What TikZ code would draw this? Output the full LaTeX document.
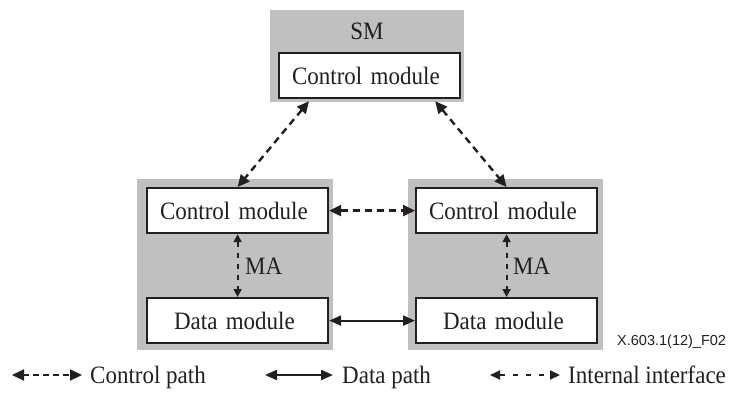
\documentclass[tikz,border=0pt]{standalone}
\usepackage{fontspec}
\setmainfont{Liberation Serif}[FakeStretch=0.92]
\newfontfamily\figsans{Liberation Sans}
\usetikzlibrary{arrows.meta,calc}
\definecolor{ink}{RGB}{35,31,32}
\definecolor{panel}{RGB}{193,192,192}
\tikzset{
  panelbox/.style={fill=panel, draw=none, anchor=north west, inner sep=0pt},
  modbox/.style={draw=ink, line width=2.2pt, fill=white, anchor=north west,
     minimum height=45pt, text=ink, align=left, font=\fontsize{25}{28}\selectfont},
  ctlbox/.style={modbox, inner xsep=13pt, text width=155pt},
  databox/.style={modbox, inner xsep=27pt, text width=127pt},
  lbl/.style={text=ink, inner sep=0pt, font=\fontsize{25}{28}\selectfont},
  ctlpath/.style={draw=ink, line width=2.4pt, dash pattern=on 7pt off 5pt,
     {Triangle[length=12pt,width=11pt]}-{Triangle[length=12pt,width=11pt]}},
  datapath/.style={draw=ink, line width=2.2pt,
     {Triangle[length=12pt,width=10pt]}-{Triangle[length=12pt,width=10pt]}},
  intf/.style={draw=ink, line width=1.8pt, dash pattern=on 5pt off 6pt,
     {Triangle[length=8pt,width=8pt]}-{Triangle[length=8pt,width=8pt]}}
}
\begin{document}
\begin{tikzpicture}[x=1pt,y=-1pt]
\useasboundingbox (0,0) rectangle (731,392);
% panels
\node[panelbox, minimum width=194pt, minimum height=92pt] (smp) at (270,10) {};
\node[panelbox, minimum width=196pt, minimum height=171pt] (lp) at (137,179) {};
\node[panelbox, minimum width=195pt, minimum height=171pt] (rp) at (408,179) {};
\node[lbl] (sm) at (367,31) {SM};
% modules
\node[ctlbox] (topctl) at (278,52) {Control module};
\node[ctlbox] (lctl) at (146,187) {Control module};
\node[ctlbox] (rctl) at (415,187) {Control module};
\node[databox] (ldat) at (146,297) {Data module};
\node[databox] (rdat) at (415,297) {Data module};
% connectors
\draw[ctlpath] ($(topctl.south west)+(31,2)$) -- (lctl.north);
\draw[ctlpath] ($(topctl.south east)+(-26,2)$) -- (rctl.north);
\draw[ctlpath] (lctl.east) -- (rctl.west);
\draw[datapath] (ldat.east) -- (rdat.west);
\draw[intf] (lctl.south) -- (ldat.north);
\draw[intf] (rctl.south) -- (rdat.north);
\node[lbl, anchor=west] (ma1) at (245,266) {MA};
\node[lbl, anchor=west] (ma2) at (513,266) {MA};
% figure id
\node[text=ink, inner sep=0pt, anchor=west, font=\figsans\fontsize{14.5}{16}\selectfont] (fid) at (617,342) {X.603.1(12)\_F02};
% legend
\coordinate (c1) at (12,375); \coordinate (c2) at (82,375);
\coordinate (d1) at (265,375); \coordinate (d2) at (333,375);
\coordinate (i1) at (490,375); \coordinate (i2) at (560,375);
\draw[ctlpath, line width=2.2pt, dash pattern=on 6pt off 4pt,
  {Triangle[length=12pt,width=11pt]}-{Triangle[length=12pt,width=11pt]}] (c1) -- (c2);
\draw[datapath] (d1) -- (d2);
\draw[intf, dash pattern=on 5pt off 8pt,
  {Triangle[length=10pt,width=9pt]}-{Triangle[length=10pt,width=9pt]}] (i1) -- (i2);
\node[lbl, anchor=base west] (lc) at (90,383) {Control path};
\node[lbl, anchor=base west] (ld) at (342,383) {Data path};
\node[lbl, anchor=base west] (li) at (568,383) {Internal interface};
\end{tikzpicture}
\end{document}
